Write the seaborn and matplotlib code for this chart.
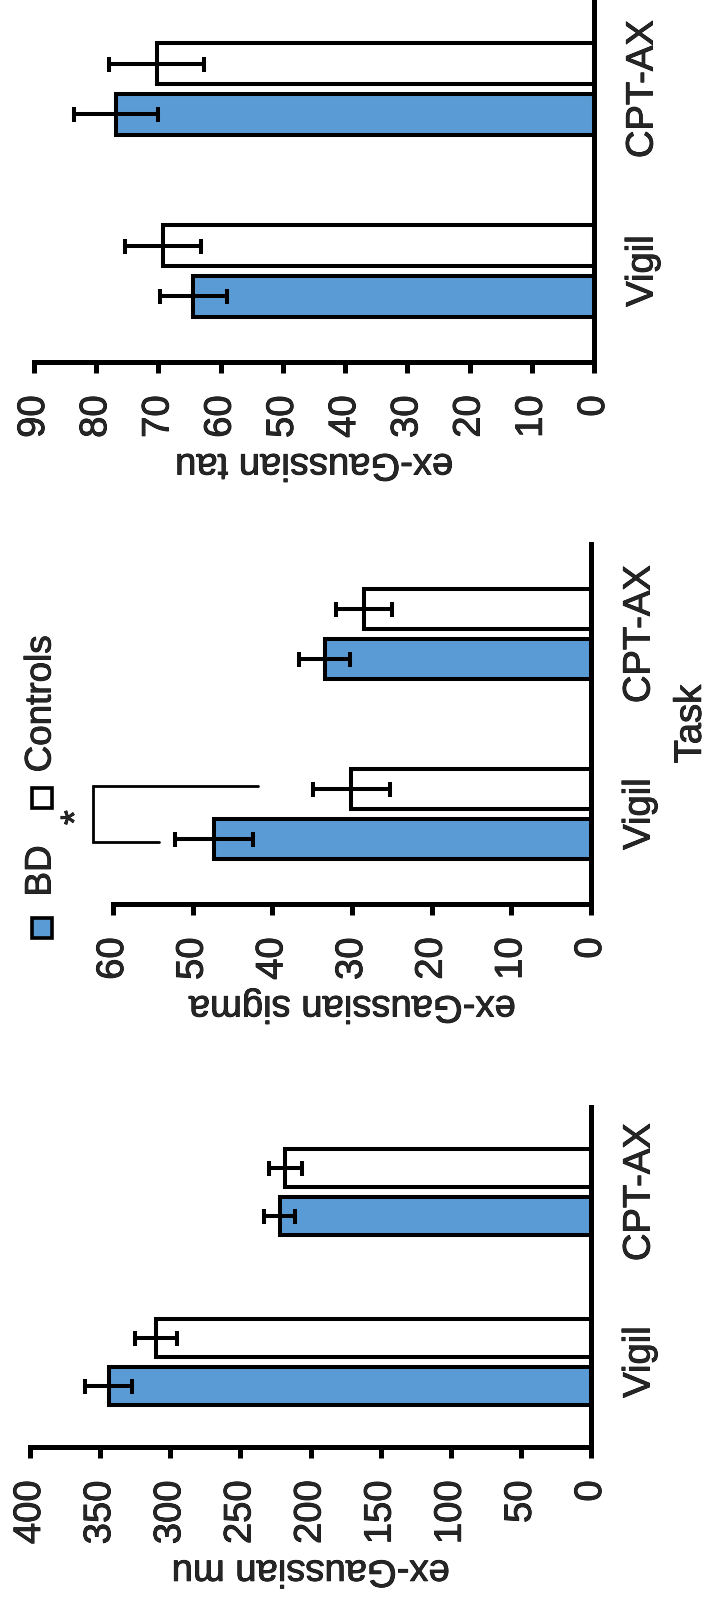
import pandas as pd
import matplotlib
matplotlib.use("Agg")
import matplotlib.pyplot as plt
import matplotlib.patheffects as pe
import seaborn as sns
from matplotlib.lines import Line2D
from matplotlib.text import Text

# data
tasks = ["Vigil", "CPT-AX"]
groups = ["BD", "Controls"]

mu_bd = [344, 222]
mu_bd_err = [16.8, 10.9]
mu_ctrl = [310, 218]
mu_ctrl_err = [15.0, 11.7]

sigma_bd = [47.3, 33.4]
sigma_bd_err = [4.9, 3.2]
sigma_ctrl = [30.1, 28.5]
sigma_ctrl_err = [4.85, 3.5]

tau_bd = [64.4, 76.8]
tau_bd_err = [5.4, 6.7]
tau_ctrl = [69.2, 70.3]
tau_ctrl_err = [6.1, 7.6]

mu_ticks = [0, 50, 100, 150, 200, 250, 300, 350, 400]
sigma_ticks = [0, 10, 20, 30, 40, 50, 60]
tau_ticks = [0, 10, 20, 30, 40, 50, 60, 70, 80, 90]

# significance bracket on sigma / Vigil
sig_bracket_x = [41.8, 62.5, 62.5, 54.2]
sig_star_x = 64.5

BLUE = "#5B9BD5"
FS = 27.5
LW_BAR = 2.9
LW_AX = 3.6

sns.set_style("white")
plt.rcParams["font.family"] = ["Liberation Sans", "DejaVu Sans"]

W, H = 709, 1603
fig = plt.figure(figsize=(W / 100, H / 100), dpi=100)


def px_rect(left, right, top, bottom):
    return [left / W, 1 - bottom / H, (right - left) / W, (bottom - top) / H]


def make_df(bd, bd_err, ctrl, ctrl_err):
    rows = []
    for i, t in enumerate(tasks):
        rows.append({"task": t, "group": "BD", "value": bd[i], "err": bd_err[i]})
    for i, t in enumerate(tasks):
        rows.append({"task": t, "group": "Controls", "value": ctrl[i], "err": ctrl_err[i]})
    return pd.DataFrame(rows)


def panel(rect, df, ticks, label):
    ax = fig.add_axes(rect)
    sns.barplot(data=df, x="value", y="task", hue="group", orient="h",
                order=tasks, hue_order=groups, saturation=1,
                palette={"BD": BLUE, "Controls": "white"},
                edgecolor="black", linewidth=LW_BAR, width=0.56, gap=0.2,
                legend=False, ax=ax)
    # error bars at the ends of the bars
    for patch, (_, r) in zip(ax.patches, df.iterrows()):
        yc = patch.get_y() + patch.get_height() / 2
        ax.errorbar(patch.get_width(), yc, xerr=r["err"], fmt="none",
                    ecolor="black", elinewidth=LW_BAR, capsize=5.4,
                    capthick=LW_BAR, zorder=5)
    ax.set_xlim(ticks[-1], 0)
    ax.set_ylim(-0.5, 1.5)
    ax.set_xticks(ticks)
    ax.set_xticklabels([str(t) for t in ticks], rotation=90, fontsize=FS)
    ax.yaxis.tick_right()
    ax.set_yticks([0, 1])
    ax.set_yticklabels(tasks, rotation=90, va="center", fontsize=FS)
    ax.tick_params(axis="x", direction="out", length=8, width=LW_AX, pad=16,
                   bottom=True, color="black")
    ax.tick_params(axis="y", length=0, pad=22)
    for s in ["left", "top"]:
        ax.spines[s].set_visible(False)
    for s in ["right", "bottom"]:
        ax.spines[s].set_visible(True)
        ax.spines[s].set_linewidth(LW_AX)
        ax.spines[s].set_color("black")
        ax.spines[s].set_capstyle("projecting")
    ax.set_ylabel("")
    ax.set_xlabel(label, rotation=180, fontsize=FS, labelpad=6)
    return ax


ax_tau = panel(px_rect(34, 594, -2, 362),
               make_df(tau_bd, tau_bd_err, tau_ctrl, tau_ctrl_err),
               tau_ticks, "ex-Gaussian tau")
ax_sig = panel(px_rect(113, 591, 544, 904),
               make_df(sigma_bd, sigma_bd_err, sigma_ctrl, sigma_ctrl_err),
               sigma_ticks, "ex-Gaussian sigma")
ax_mu = panel(px_rect(30, 591, 1107, 1447),
              make_df(mu_bd, mu_bd_err, mu_ctrl, mu_ctrl_err),
              mu_ticks, "ex-Gaussian mu")

# Task label (shared category axis title)
ax_sig.yaxis.set_label_position("right")
ax_sig.set_ylabel("Task", rotation=90, fontsize=FS, labelpad=11)

# significance bracket between BD and Controls for Vigil
ax_sig.plot(sig_bracket_x, [0.155, 0.155, -0.155, -0.155], color="black",
            lw=2, clip_on=False, solid_joinstyle="miter")
ax_sig.text(sig_star_x, -0.02, "*", rotation=90, ha="center", va="center",
            fontsize=FS, clip_on=False)

# legend, drawn rotated like the rest of the figure
for name, fc, sq_y, txt_y in [("BD", BLUE, 928, 871), ("Controls", "white", 798, 704)]:
    fig.add_artist(Line2D([42 / W], [1 - sq_y / H], marker="s", markersize=14,
                          markerfacecolor=fc, markeredgecolor="black",
                          markeredgewidth=2.6, linestyle="none",
                          transform=fig.transFigure))
    fig.text(41 / W, 1 - txt_y / H, name, rotation=90, ha="center",
             va="center", fontsize=26.5)

# slightly heavier glyphs, as in the original
for t in fig.findobj(Text):
    t.set_path_effects([pe.withStroke(linewidth=0.6, foreground="black")])

fig.savefig("out.png", dpi=100, facecolor="white")
